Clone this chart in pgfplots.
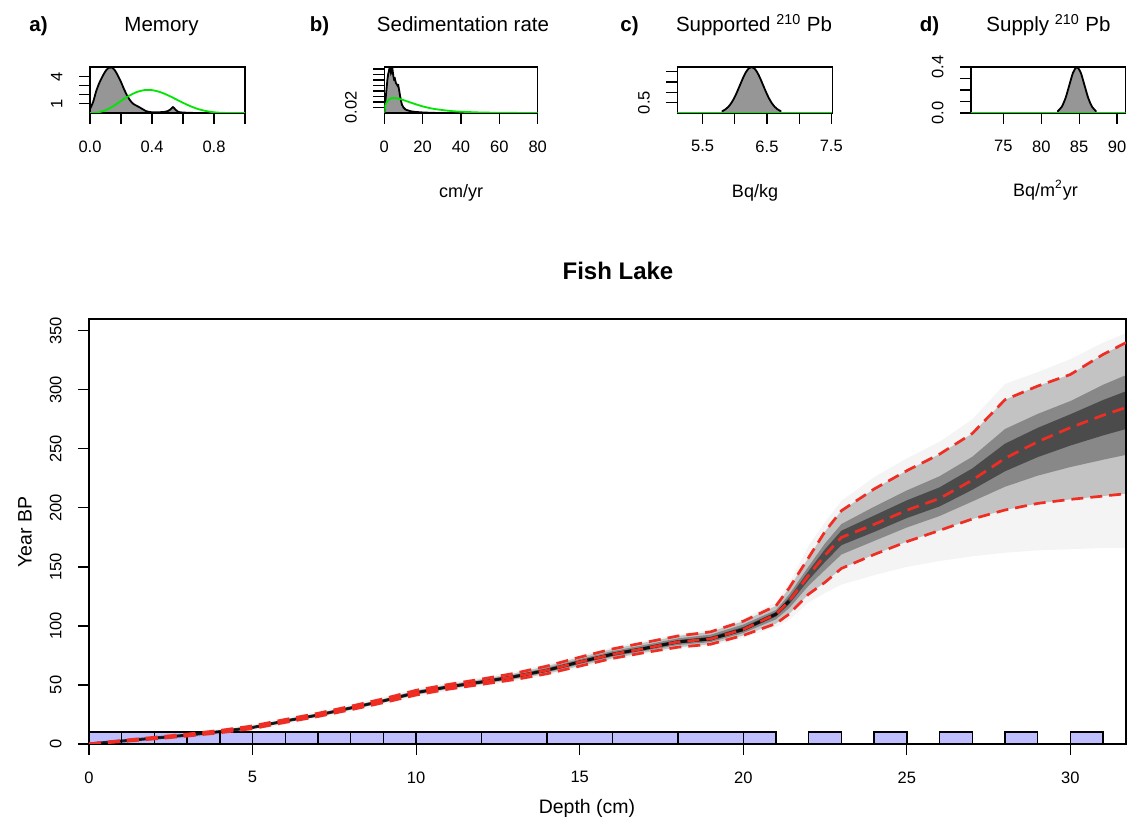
\documentclass[border=0pt]{standalone}
\usepackage{fontspec}
\setmainfont{Liberation Sans}
\usepackage{pgfplots}
\pgfplotsset{compat=1.18}
\usepackage{pgfplotstable}
\definecolor{rred}{RGB}{240,45,35}
\definecolor{rgreen}{RGB}{0,230,0}
\definecolor{dgray}{RGB}{150,150,150}
\definecolor{boxblue}{RGB}{191,191,255}

\pgfplotstableread{
d l m u
0 0 0 0
1 2 2.5 3
2 4.3 5 5.7
3 6.7 7.5 8.4
4 9.5 10.5 11.5
5 13 14 15.3
6 18.3 19.5 20.8
7 23.3 24.5 26
8 29 30.5 32
9 35 36.5 38.3
10 41.5 43.5 45.5
11 46.5 48.5 50.5
12 50.5 52.5 55
13 54.5 57 59.8
14 59.5 62.5 66
15 66 69.5 73.5
16 72.5 76 80.5
17 77.5 81 86
18 82 86.5 91.5
19 84.5 89 95
20 92 97 104
21 102 110 117
21.4 110 121 132
22 127 143 158
22.5 137 160 180
23 148.7 175 197.6
24 160.5 186 216
25 171.4 198 231.5
26 180.9 208 245.5
27 190.6 223.5 263
28 198.2 242 291.6
29 203.8 256 303.2
30 207.2 268 313
31 210 278.5 330
31.7 212 285 340
}\agedepth

\pgfplotsset{
  rstyle/.style={
    scale only axis, anchor=south west,
    axis line style={line width=0.6pt},
    tick align=outside, tick pos=left,
    major tick length=5.5pt,
    tick style={black, line width=0.6pt},
    tick label style={font=\fontsize{8.25}{9}\selectfont},
    /pgf/number format/assume math mode=true,
    yticklabel style={xshift=-4.75pt, rotate=90, anchor=south},
    xticklabel style={yshift=-4.75pt},
  },
  bx/.style={fill=boxblue, draw=black, line width=0.75pt},
  band/.style={fill=black, draw=none},
}

\begin{document}
\begin{tikzpicture}
\path (0,0) rectangle (567.5pt,415pt);

% ---------- main age-depth plot ----------
\begin{axis}[rstyle, at={(44.5pt,43pt)}, width=518.5pt, height=212.5pt,
  xmin=0, xmax=31.7, ymin=0, ymax=360,
  xtick={0,5,10,15,20,25,30}, xticklabels={0,5,10,15,20,25,30},
  ytick={0,50,100,150,200,250,300,350}, yticklabels={0,50,100,150,200,250,300,350}]
% sample boxes
\addplot[bx] coordinates {(0,10) (1,10)} \closedcycle;
\addplot[bx] coordinates {(1,10) (2,10)} \closedcycle;
\addplot[bx] coordinates {(2,10) (3,10)} \closedcycle;
\addplot[bx] coordinates {(3,10) (4,10)} \closedcycle;
\addplot[bx] coordinates {(4,10) (5,10)} \closedcycle;
\addplot[bx] coordinates {(5,10) (6,10)} \closedcycle;
\addplot[bx] coordinates {(6,10) (7,10)} \closedcycle;
\addplot[bx] coordinates {(7,10) (8,10)} \closedcycle;
\addplot[bx] coordinates {(8,10) (9,10)} \closedcycle;
\addplot[bx] coordinates {(9,10) (10,10)} \closedcycle;
\addplot[bx] coordinates {(10,10) (12,10)} \closedcycle;
\addplot[bx] coordinates {(12,10) (14,10)} \closedcycle;
\addplot[bx] coordinates {(14,10) (16,10)} \closedcycle;
\addplot[bx] coordinates {(16,10) (18,10)} \closedcycle;
\addplot[bx] coordinates {(18,10) (20,10)} \closedcycle;
\addplot[bx] coordinates {(20,10) (21,10)} \closedcycle;
\addplot[bx] coordinates {(22,10) (23,10)} \closedcycle;
\addplot[bx] coordinates {(24,10) (25,10)} \closedcycle;
\addplot[bx] coordinates {(26,10) (27,10)} \closedcycle;
\addplot[bx] coordinates {(28,10) (29,10)} \closedcycle;
\addplot[bx] coordinates {(30,10) (31,10)} \closedcycle;
% faint outer cloud
\addplot[band, fill opacity=0.045] coordinates {
 (0,1.5) (1,4.5) (2,7.2) (3,9.9) (4,13) (5,16.8) (6,22.3) (7,27.5) (8,33.5) (9,39.8) (10,47)
 (11,52) (12,56.5) (13,61.3) (14,67.5) (15,75) (16,82) (17,87.5) (18,93) (19,96.5) (20,106)
 (21,120) (21.4,136) (22,168) (22.5,188) (23,206) (24,226) (25,242) (26,256) (27,275) (28,305)
 (29,315) (30,326) (31,340) (31.7,348)
 (31.7,166) (31,166) (30,165) (29,164) (28,162) (27,159) (26,155) (25,150) (24,143) (23,135)
 (22.5,128) (22,120) (21.4,105) (21,99) (20,90) (19,83) (18,80.5) (17,76) (16,71) (15,64.5)
 (14,58) (13,53) (12,49) (11,45) (10,40) (9,33.5) (8,27.5) (7,21.8) (6,16.8) (5,11.5) (4,8)
 (3,5.2) (2,2.8) (1,0.5) (0,0)};
% 95% band
\addplot[band, fill opacity=0.2] coordinates {
 (0,0) (1,3) (2,5.7) (3,8.4) (4,11.5) (5,15.3) (6,20.8) (7,26) (8,32) (9,38.3) (10,45.5)
 (11,50.5) (12,55) (13,59.8) (14,66) (15,73.5) (16,80.5) (17,86) (18,91.5) (19,95) (20,104)
 (21,117) (21.4,132) (22,158) (22.5,180) (23,197.6) (24,216) (25,231.5) (26,245.5) (27,263)
 (28,291.6) (29,303.2) (30,313) (31,330) (31.7,340)
 (31.7,212) (31,210) (30,207.2) (29,203.8) (28,198.2) (27,190.6) (26,180.9) (25,171.4)
 (24,160.5) (23,148.7) (22.5,137) (22,127) (21.4,110) (21,102) (20,92) (19,84.5) (18,82)
 (17,77.5) (16,72.5) (15,66) (14,59.5) (13,54.5) (12,50.5) (11,46.5) (10,41.5) (9,35) (8,29)
 (7,23.3) (6,18.3) (5,13) (4,9.5) (3,6.7) (2,4.3) (1,2) (0,0)};
% inner band
\addplot[band, fill opacity=0.3] coordinates {
 (0,0) (1,2.8) (2,5.42) (3,8.04) (4,11.1) (5,14.78) (6,20.28) (7,25.4) (8,31.4) (9,37.58)
 (10,44.7) (11,49.7) (12,54) (13,58.68) (14,64.6) (15,71.9) (16,78.7) (17,84) (18,89.5)
 (19,92.6) (20,101.2) (21,113.5) (21.4,126.5) (22,150.5) (22.5,170) (23,186.3) (24,201)
 (25,214.8) (26,226.8) (27,243.3) (28,266.8) (29,279.6) (30,290.5) (31,304.3) (31.7,312.5)
 (31.7,244.9) (31,240.8) (30,234.6) (29,227.3) (28,217.9) (27,205.4) (26,193.1) (25,183.4)
 (24,172) (23,160.5) (22.5,147.4) (22,134.2) (21.4,115) (21,105.6) (20,94) (19,86.3)
 (18,83.8) (17,78.9) (16,73.9) (15,67.4) (14,60.7) (13,55.5) (12,51.3) (11,47.3) (10,42.3)
 (9,35.6) (8,29.6) (7,23.78) (6,18.78) (5,13.4) (4,9.9) (3,7.02) (2,4.58) (1,2.2) (0,0)};
% core band
\addplot[band, fill opacity=0.45] coordinates {
 (0,0) (1,2.65) (2,5.21) (3,7.77) (4,10.8) (5,14.39) (6,19.89) (7,24.95) (8,30.95) (9,37.04)
 (10,44.1) (11,49.1) (12,53.25) (13,57.84) (14,63.55) (15,70.7) (16,77.35) (17,82.5) (18,88)
 (19,90.8) (20,99.1) (21,111.8) (21.4,123.8) (22,146.8) (22.5,165) (23,180.7) (24,193.5)
 (25,206.4) (26,217.4) (27,233.4) (28,254.4) (29,267.8) (30,279.3) (31,291.4) (31.7,298.8)
 (31.7,266.8) (31,261.4) (30,252.8) (29,243) (28,231) (27,215.3) (26,201.2) (25,191.4)
 (24,179.6) (23,168.4) (22.5,154.3) (22,139) (21.4,118.3) (21,108) (20,95.5) (19,87.65)
 (18,85.15) (17,79.95) (16,74.95) (15,68.45) (14,61.6) (13,56.25) (12,51.9) (11,47.9)
 (10,42.9) (9,36.05) (8,30.05) (7,24.14) (6,19.14) (5,13.7) (4,10.2) (3,7.26) (2,4.79)
 (1,2.35) (0,0)};
\addplot[black, opacity=0.8, line width=1.5pt] coordinates {
 (0,0) (1,2.5) (2,5) (3,7.5) (4,10.5) (5,14) (6,19.5) (7,24.5) (8,30.5) (9,36.5) (10,43.5)
 (11,48.5) (12,52.5) (13,57) (14,62.5) (15,69.5) (16,76) (17,81) (18,86.5) (19,89) (20,97)
 (21,110) (21.4,121)};
\addplot[rred, line width=1.35pt, dash pattern=on 6pt off 3.5pt] table[x=d,y=u]{\agedepth};
\addplot[rred, line width=1.35pt, dash pattern=on 6pt off 3.5pt] table[x=d,y=l]{\agedepth};
\addplot[rred, line width=1.35pt, dash pattern=on 6pt off 3.5pt] table[x=d,y=m]{\agedepth};
\end{axis}

% ---------- a) Memory ----------
\begin{axis}[rstyle, at={(45pt,358.5pt)}, width=77.5pt, height=23pt,
  xmin=0, xmax=1, ymin=0, ymax=5.05,
  xtick={0,0.2,0.4,0.6,0.8,1}, xticklabels={0.0,,0.4,,0.8,},
  ytick={1,2,3,4}, yticklabels={1,,,4}]
\addplot[fill=dgray, draw=black, line width=0.9pt, smooth, tension=0.4] coordinates {
 (0,0.45) (0.02,1.2) (0.04,2.4) (0.06,3.3) (0.08,4.0) (0.10,4.6) (0.12,4.95) (0.14,5.0)
 (0.16,4.7) (0.18,4.1) (0.20,3.4) (0.22,2.6) (0.24,1.9) (0.26,1.35) (0.28,1.0) (0.30,0.8)
 (0.32,0.62) (0.34,0.42) (0.36,0.22) (0.38,0.12) (0.40,0.08) (0.44,0.08) (0.48,0.12)
 (0.50,0.2) (0.52,0.4) (0.535,0.65) (0.55,0.4) (0.57,0.12) (0.60,0.05) (0.65,0.02) (0.70,0.0) (1,0)} \closedcycle;
\addplot[rgreen, line width=0.9pt, smooth] coordinates {
 (0,0) (0.05,0.049) (0.1,0.30) (0.15,0.75) (0.2,1.32) (0.25,1.87) (0.3,2.29) (0.35,2.51)
 (0.4,2.51) (0.45,2.31) (0.5,1.97) (0.55,1.55) (0.6,1.12) (0.65,0.73) (0.7,0.42) (0.75,0.21)
 (0.8,0.08) (0.85,0.02) (0.9,0.004) (1,0)};
\end{axis}

% ---------- b) Sedimentation rate ----------
\begin{axis}[rstyle, at={(192.15pt,358.5pt)}, width=76.7pt, height=23pt,
  xmin=0, xmax=80, ymin=0, ymax=0.167,
  xtick={0,20,40,60,80}, xticklabels={0,20,40,60,80},
  ytick={0.02,0.04,0.06,0.08,0.10,0.12,0.14,0.16}, yticklabels={0.02,,,,,,,}]
\addplot[fill=dgray, draw=black, line width=0.9pt] coordinates {
 (0,0) (0.3,0.02) (0.8,0.06) (1.2,0.09) (1.6,0.12) (2.0,0.14) (2.4,0.152) (2.8,0.167)
 (3.1,0.165) (3.4,0.15) (3.7,0.158) (4.0,0.15) (4.3,0.157) (4.7,0.135) (5.1,0.122)
 (5.5,0.125) (6.0,0.11) (6.5,0.104) (7.0,0.098) (7.3,0.1) (7.8,0.08) (8.2,0.063)
 (8.7,0.045) (9.2,0.03) (10,0.02) (11,0.013) (12,0.01) (14,0.006) (16,0.004) (20,0.002)
 (25,0.0005) (30,0) (80,0)} \closedcycle;
\addplot[rgreen, line width=0.9pt, smooth] coordinates {
 (0,0) (0.5,0.027) (1,0.036) (2,0.046) (3,0.051) (4,0.054) (5,0.054) (6,0.054) (8,0.051)
 (10,0.047) (12,0.042) (15,0.035) (20,0.024) (25,0.016) (30,0.011) (35,0.007) (40,0.0046)
 (50,0.0019) (60,0.0008) (70,0.0003) (80,0.0001)};
\end{axis}

% ---------- c) Supported 210Pb ----------
\begin{axis}[rstyle, at={(338.65pt,358.5pt)}, width=77.5pt, height=23pt,
  xmin=5.106, xmax=7.516, ymin=0, ymax=2.22,
  xtick={5.5,6,6.5,7,7.5}, xticklabels={5.5,,6.5,,7.5},
  ytick={0.5,1,1.5,2}, yticklabels={0.5,,,}]
\addplot[fill=dgray, draw=black, line width=0.9pt, smooth] coordinates {
 (5.81,0.097) (5.855,0.176) (5.90,0.300) (5.945,0.479) (5.99,0.718) (6.035,1.015)
 (6.08,1.344) (6.125,1.673) (6.17,1.956) (6.215,2.147) (6.26,2.216) (6.305,2.147)
 (6.35,1.956) (6.395,1.673) (6.44,1.344) (6.485,1.015) (6.53,0.718) (6.575,0.479)
 (6.62,0.300) (6.665,0.176) (6.71,0.097)} \closedcycle;
\addplot[rgreen, line width=0.9pt] coordinates {(5.106,0.01) (7.516,0.01)};
\end{axis}

% ---------- d) Supply 210Pb ----------
\begin{axis}[rstyle, at={(485.5pt,358.5pt)}, width=77.35pt, height=23pt,
  xmin=70.73, xmax=91.14, ymin=0, ymax=0.4,
  xtick={75,80,85,90}, xticklabels={75,80,85,90},
  ytick={0,0.1,0.2,0.3,0.4}, yticklabels={0.0,,,,0.4}]
\addplot[fill=dgray, draw=black, line width=0.9pt, smooth] coordinates {
 (82.2,0.0175) (82.7,0.054) (83.2,0.1295) (83.7,0.242) (84.2,0.352) (84.7,0.399)
 (85.2,0.352) (85.7,0.242) (86.2,0.1295) (86.7,0.054) (87.2,0.0175)} \closedcycle;
\addplot[rgreen, line width=0.9pt] coordinates {(70.73,0.002) (91.14,0.002)};
\end{axis}

% ---------- titles and labels ----------
\begin{scope}[every node/.style={inner sep=0pt}]
\node[font=\fontsize{10.25}{12}\selectfont\bfseries, anchor=base] at (19.25pt,399.2pt) {a)};
\node[font=\fontsize{10.25}{12}\selectfont, anchor=base] at (80.75pt,399.2pt) {Memory};
\node[font=\fontsize{10.25}{12}\selectfont\bfseries, anchor=base] at (159.75pt,399.2pt) {b)};
\node[font=\fontsize{10.25}{12}\selectfont, anchor=base] at (231.5pt,399.2pt) {Sedimentation rate};
\node[font=\fontsize{10.25}{12}\selectfont\bfseries, anchor=base] at (314.75pt,399.2pt) {c)};
\node[font=\fontsize{10.25}{12}\selectfont, anchor=base] at (377pt,399.2pt) {Supported \textsuperscript{210} Pb};
\node[font=\fontsize{10.25}{12}\selectfont\bfseries, anchor=base] at (464.75pt,399.2pt) {d)};
\node[font=\fontsize{10.25}{12}\selectfont, anchor=base] at (524.25pt,399.2pt) {Supply \textsuperscript{210} Pb};
\node[font=\fontsize{9}{11}\selectfont] at (230.5pt,318.5pt) {cm/yr};
\node[font=\fontsize{9}{11}\selectfont] at (377.5pt,318.5pt) {Bq/kg};
\node[font=\fontsize{9}{11}\selectfont] at (522.75pt,320pt) {Bq/m\textsuperscript{2}yr};
\node[font=\fontsize{12}{14}\selectfont\bfseries] at (309pt,279.5pt) {Fish Lake};
\node[font=\fontsize{9.75}{11}\selectfont] at (293.5pt,11pt) {Depth (cm)};
\node[font=\fontsize{9.75}{11}\selectfont, rotate=90] at (12.5pt,149pt) {Year BP};
\end{scope}
\end{tikzpicture}
\end{document}
